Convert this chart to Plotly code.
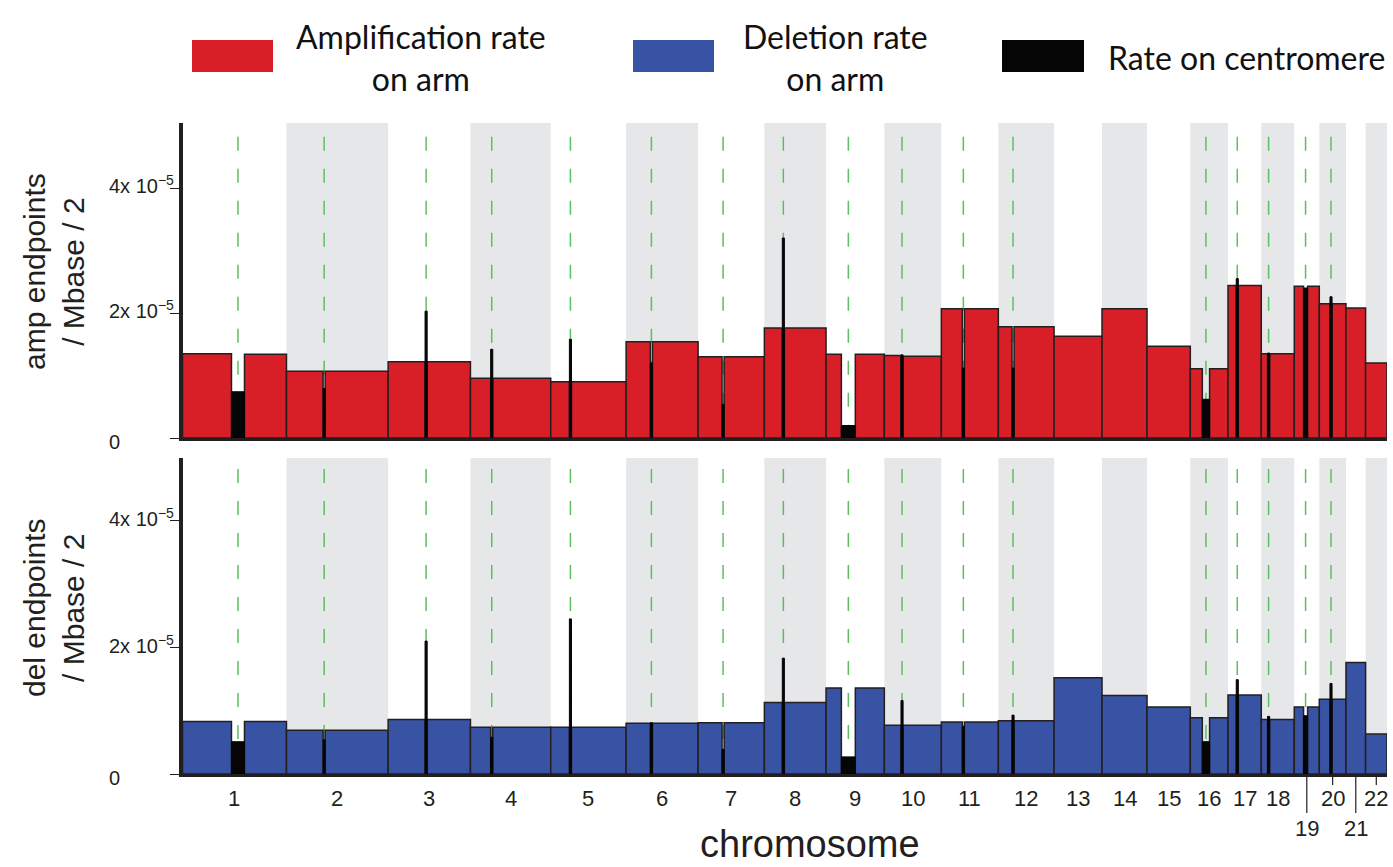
import plotly.graph_objects as go

# ---------------- data ----------------
chrom_names = ["1", "2", "3", "4", "5", "6", "7", "8", "9", "10", "11",
               "12", "13", "14", "15", "16", "17", "18", "19", "20", "21", "22"]
# chromosome lengths (Mb)
chrom_len = [248.6, 243.1, 196.8, 192.0, 180.2, 172.1, 158.5, 147.5, 139.4, 136.3, 136.3,
             133.2, 114.7, 107.6, 103.5, 90.1, 79.6, 78.9, 59.8, 63.8, 46.9, 51.2]
# centromere interval inside each chromosome (Mb); None = acrocentric (no p arm shown)
cen_start = [117.1, 87.6, 88.3, 48.4, 44.6, 58.0, 57.3, 42.9, 36.6, 39.8, 50.1,
             32.6, None, None, None, 28.7, 19.7, 15.0, 22.2, 25.5, None, None]
cen_end = [148.2, 92.6, 93.3, 53.4, 49.6, 63.0, 62.3, 47.9, 70.0, 44.8, 55.1,
           37.6, None, None, None, 46.1, 24.7, 20.0, 31.8, 30.5, None, None]

RATE_UNIT = 1e-5
# amplification endpoint rates (x 1e-5)
amp_p = [1.35, 1.07, 1.22, 0.955, 0.90, 1.54, 1.30, 1.76, 1.34, 1.32, 2.07,
         1.78, None, None, None, 1.11, 2.44, 1.35, 2.43, 2.15, None, None]
amp_cen = [0.74, 0.79, 2.03, 1.42, 1.58, 1.20, 0.54, 3.20, 0.20, 1.33, 1.12,
           1.12, None, None, None, 0.62, 2.55, 1.36, 2.40, 2.26, None, None]
amp_q = [1.34, 1.07, 1.22, 0.955, 0.90, 1.54, 1.30, 1.76, 1.34, 1.31, 2.07,
         1.78, 1.63, 2.07, 1.47, 1.11, 2.44, 1.35, 2.43, 2.15, 2.08, 1.20]
# deletion endpoint rates (x 1e-5)
del_p = [0.83, 0.69, 0.86, 0.74, 0.74, 0.80, 0.81, 1.13, 1.36, 0.77, 0.82,
         0.84, None, None, None, 0.89, 1.25, 0.86, 1.06, 1.18, None, None]
del_cen = [0.51, 0.54, 2.10, 0.58, 2.45, 0.81, 0.39, 1.83, 0.27, 1.16, 0.75,
           0.93, None, None, None, 0.51, 1.49, 0.91, 0.92, 1.43, None, None]
del_q = [0.83, 0.69, 0.86, 0.74, 0.74, 0.80, 0.81, 1.13, 1.36, 0.77, 0.82,
         0.84, 1.52, 1.24, 1.06, 0.89, 1.25, 0.86, 1.06, 1.18, 1.76, 0.63]

ytick_vals = [0, 2, 4]
ytick_text = ["0", "2x 10<sup>\u22125</sup>", "4x 10<sup>\u22125</sup>"]
lower_labels = ["19", "21"]
ticked_labels = ["19", "20", "21", "22"]

# ---------------- styles ----------------
RED = "#d81f27"
BLUE = "#3853a3"
BLACK = "#050505"
EDGE = "#231f20"
GREY = "#e6e7e8"
GREEN = "#5cbf5f"
W, H = 1393, 867
NUM_FONT = "Liberation Sans, Arial, sans-serif"
LEG_FONT = "Lato, Open Sans, sans-serif"

# ---------------- geometry from data ----------------
starts = []
acc = 0.0
for L in chrom_len:
    starts.append(acc)
    acc += L
total = acc
centers = [s + L / 2 for s, L in zip(starts, chrom_len)]


def segments(pvals, cvals, qvals):
    arm_x, arm_w, arm_y = [], [], []
    cen_x, cen_w, cen_y = [], [], []
    for i in range(len(chrom_len)):
        s, L = starts[i], chrom_len[i]
        if cen_start[i] is None:
            arm_x.append(s + L / 2); arm_w.append(L); arm_y.append(qvals[i] * RATE_UNIT)
            continue
        a, b = s + cen_start[i], s + cen_end[i]
        arm_x.append((s + a) / 2); arm_w.append(a - s); arm_y.append(pvals[i] * RATE_UNIT)
        arm_x.append((b + s + L) / 2); arm_w.append(s + L - b); arm_y.append(qvals[i] * RATE_UNIT)
        cen_x.append((a + b) / 2); cen_w.append(b - a); cen_y.append(cvals[i] * RATE_UNIT)
    return arm_x, arm_w, arm_y, cen_x, cen_w, cen_y


fig = go.Figure()
panels = [("x", "y", amp_p, amp_cen, amp_q, RED), ("x2", "y2", del_p, del_cen, del_q, BLUE)]
for xa, ya, pv, cv, qv, col in panels:
    ax_, aw, ay, cx, cw, cy = segments(pv, cv, qv)
    fig.add_trace(go.Bar(x=ax_, y=ay, width=aw, base=0, xaxis=xa, yaxis=ya,
                         marker=dict(color=col, line=dict(color=EDGE, width=1.5)),
                         hoverinfo="skip"))
    fig.add_trace(go.Bar(x=cx, y=cy, width=cw, base=0, xaxis=xa, yaxis=ya,
                         marker=dict(color=BLACK, line=dict(color=BLACK, width=1)),
                         hoverinfo="skip"))

# ---------------- layout ----------------
px2py = lambda p: 1 - p / H
amp_dom = [px2py(438), px2py(123)]
del_dom = [px2py(774), px2py(458)]
amp_top = (438 - 123) / 62.5
del_top = (774 - 458) / 63.3
xdom = [182.5 / W, 1387 / W]

shapes = []
# grey bands for even chromosomes
for i, nm in enumerate(chrom_names):
    if i % 2 == 1:
        for xr, yr in (("x", "y domain"), ("x2", "y2 domain")):
            shapes.append(dict(type="rect", xref=xr, yref=yr, x0=starts[i], x1=starts[i] + chrom_len[i],
                               y0=0, y1=1, fillcolor=GREY, line=dict(width=0), layer="below"))
# green dashed centromere lines
for i in range(len(chrom_names)):
    if cen_start[i] is None:
        continue
    xm = starts[i] + (cen_start[i] + cen_end[i]) / 2
    for xr, yr in (("x", "y"), ("x2", "y2")):
        shapes.append(dict(type="line", xref=xr, yref=yr, x0=xm, x1=xm, y0=4.82e-5, y1=0,
                           line=dict(color=GREEN, width=1.5, dash="14px,18px"), layer="below"))
# x tick marks under chromosomes 19-22
for i, nm in enumerate(chrom_names):
    if nm in ticked_labels:
        ybot = 813 if nm in lower_labels else 785
        shapes.append(dict(type="line", xref="x2", yref="paper", x0=centers[i], x1=centers[i],
                           y0=px2py(775), y1=px2py(ybot), line=dict(color=EDGE, width=1.2)))

annotations = []
# x tick labels
for i, nm in enumerate(chrom_names):
    ypx = 828 if nm in lower_labels else 798
    annotations.append(dict(xref="x2", yref="paper", x=centers[i], y=px2py(ypx), text=nm,
                            showarrow=False, xanchor="center", yanchor="middle",
                            font=dict(family=NUM_FONT, size=22, color=EDGE)))
# y tick labels (left aligned as in the original)
for ya in ("y", "y2"):
    for v, t in zip(ytick_vals, ytick_text):
        annotations.append(dict(xref="paper", yref=ya, x=107 / W, y=v * RATE_UNIT, text=t,
                                showarrow=False, xanchor="left", yanchor="middle",
                                yshift=-4 if v == 0 else 3,
                                font=dict(family=NUM_FONT, size=20, color=EDGE)))
# axis titles
for ttl, ypx in (("amp endpoints<br>/ Mbase / 2", 272), ("del endpoints<br>/ Mbase / 2", 608)):
    annotations.append(dict(xref="paper", yref="paper", x=54 / W, y=px2py(ypx),
                            text=ttl, textangle=-90, showarrow=False,
                            xanchor="center", yanchor="middle", align="center",
                            font=dict(family=NUM_FONT, size=30, color=EDGE)))
annotations.append(dict(xref="paper", yref="paper", x=810 / W, y=0,
                        text="chromosome", showarrow=False, xanchor="center", yanchor="bottom",
                        font=dict(family=NUM_FONT, size=38, color=EDGE)))

# legend (drawn manually)
legend_items = [("Amplification rate<br>on arm", RED, 192, 273, 421),
                ("Deletion rate<br>on arm", BLUE, 633, 714, 835),
                ("Rate on centromere", BLACK, 1002, 1084, 1246)]
for txt, col, x0, x1, xc in legend_items:
    shapes.append(dict(type="rect", xref="paper", yref="paper", x0=x0 / W, x1=x1 / W,
                       y0=px2py(72), y1=px2py(40), fillcolor=col, line=dict(width=0)))
    annotations.append(dict(xref="paper", yref="paper", x=xc / W, y=px2py(58), text=txt,
                            showarrow=False, xanchor="center", yanchor="middle", align="center",
                            font=dict(family=LEG_FONT, size=32, color="#111111")))

axis_common = dict(showgrid=False, zeroline=False, showline=True, linecolor=EDGE)
fig.update_layout(
    width=W, height=H, margin=dict(l=0, r=0, t=0, b=0),
    paper_bgcolor="white", plot_bgcolor="white",
    barmode="overlay", showlegend=False,
    xaxis=dict(domain=xdom, range=[0, total], anchor="y", linewidth=3,
               showticklabels=False, ticks="", **axis_common),
    xaxis2=dict(domain=xdom, range=[0, total], anchor="y2", matches="x", linewidth=3,
                showticklabels=False, ticks="", **axis_common),
    yaxis=dict(domain=amp_dom, range=[0, amp_top * RATE_UNIT], anchor="x", linewidth=4,
               tickvals=[v * RATE_UNIT for v in ytick_vals], ticks="outside", ticklen=9,
               tickwidth=1, tickcolor=EDGE, showticklabels=False, **axis_common),
    yaxis2=dict(domain=del_dom, range=[0, del_top * RATE_UNIT], anchor="x2", linewidth=4,
                tickvals=[v * RATE_UNIT for v in ytick_vals], ticks="outside", ticklen=9,
                tickwidth=1, tickcolor=EDGE, showticklabels=False, **axis_common),
    shapes=shapes, annotations=annotations,
)

fig.write_html("out.html")
